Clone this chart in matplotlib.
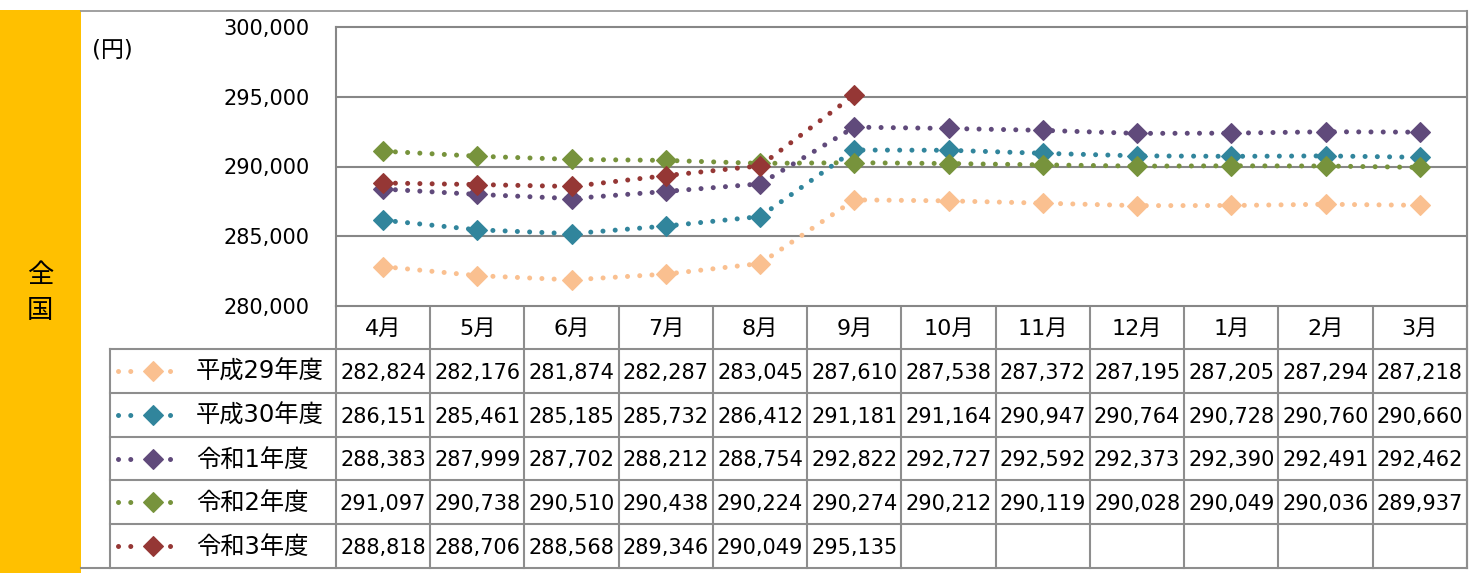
import matplotlib.pyplot as plt
import numpy as np

plt.rcParams['font.family'] = ['DejaVu Sans', 'Noto Sans CJK JP']

# data
months = ['4月', '5月', '6月', '7月', '8月', '9月', '10月', '11月', '12月', '1月', '2月', '3月']
series_names = ['平成29年度', '平成30年度', '令和1年度', '令和2年度', '令和3年度']
h29 = [282824, 282176, 281874, 282287, 283045, 287610, 287538, 287372, 287195, 287205, 287294, 287218]
h30 = [286151, 285461, 285185, 285732, 286412, 291181, 291164, 290947, 290764, 290728, 290760, 290660]
r1 = [288383, 287999, 287702, 288212, 288754, 292822, 292727, 292592, 292373, 292390, 292491, 292462]
r2 = [291097, 290738, 290510, 290438, 290224, 290274, 290212, 290119, 290028, 290049, 290036, 289937]
r3 = [288818, 288706, 288568, 289346, 290049, 295135]
all_series = [h29, h30, r1, r2, r3]
colors = ['#FAC090', '#31859C', '#604A7B', '#77933C', '#953735']
yticks = [280000, 285000, 290000, 295000, 300000]

W, H = 1471, 573
grid_c = '#878787'
line_c = '#8e8e8e'

fig = plt.figure(figsize=(W / 100, H / 100), dpi=100)

# background layer in pixel coords (y down) for frame, table and labels
bg = fig.add_axes([0, 0, 1, 1], zorder=0)
bg.set_xlim(0, W)
bg.set_ylim(H, 0)
bg.axis('off')

# plot area
px0, px1 = 336, 1467
py0, py1 = 27, 306
ax = fig.add_axes([px0 / W, (H - py1) / H, (px1 - px0) / W, (py1 - py0) / H], zorder=1)

dot_style = (0, (0.01, 2.44))
for vals, c in zip(all_series, colors):
    ax.plot(np.arange(len(vals)), vals, color=c, lw=3.6, linestyle=dot_style,
            dash_capstyle='round', marker='D', ms=10.5, mec=c, mew=0.8)

ax.set_xlim(-0.5, len(months) - 0.5)
ax.set_ylim(yticks[0], yticks[-1])
ax.set_yticks(yticks)
ax.set_yticklabels([f'{v:,}' for v in yticks], fontsize=15)
ax.tick_params(axis='y', length=0, pad=19)
ax.set_xticks([])
for y in yticks[1:-1]:
    ax.axhline(y, color=grid_c, lw=1.5, zorder=0)
for s in ax.spines.values():
    s.set_color(grid_c)
    s.set_linewidth(1.5)

# yellow side band
bg.add_patch(plt.Rectangle((0, 10), 81, H - 10, color='#FFC000', lw=0))
bg.text(40, 276, '全', ha='center', va='center', fontsize=19)
bg.text(40, 311, '国', ha='center', va='center', fontsize=19)

# outer frame
bg.plot([81, px1], [11, 11], color='#999999', lw=1.3)
bg.plot([px1, px1], [11, 568], color=line_c, lw=1.5)
bg.plot([81, px1], [568, 568], color=line_c, lw=1.5)

bg.text(92, 50, '(円)', ha='left', va='center', fontsize=16.5)

# data table
col_w = (px1 - px0) / len(months)
row_top = 349
row_h = (568 - row_top) / len(series_names)
for i in range(len(months) + 1):
    x = px0 + i * col_w
    bg.plot([x, x], [py1, 568], color=line_c, lw=1.5)
bg.plot([110, 110], [row_top, 568], color=line_c, lw=1.5)
for j in range(len(series_names)):
    y = row_top + j * row_h
    bg.plot([110, px1], [y, y], color=line_c, lw=1.5)

for i, m in enumerate(months):
    bg.text(px0 + (i + 0.5) * col_w, 335, m, ha='center', va='baseline', fontsize=16)

for j, (name, vals, c) in enumerate(zip(series_names, all_series, colors)):
    yc = row_top + (j + 0.5) * row_h
    bg.plot([118, 131], [yc, yc], color=c, lw=3.6, linestyle=dot_style, dash_capstyle='round')
    bg.plot([170, 182], [yc, yc], color=c, lw=3.6, linestyle=dot_style, dash_capstyle='round')
    bg.plot([153], [yc], color=c, marker='D', ms=10.5, mec=c, mew=0.8)
    bg.text(196, yc + 8, name, ha='left', va='baseline', fontsize=17.5)
    for i, v in enumerate(vals):
        bg.text(px0 + (i + 0.5) * col_w, yc + 8, f'{v:,}', ha='center', va='baseline', fontsize=15)

fig.savefig('out.png', dpi=100)
